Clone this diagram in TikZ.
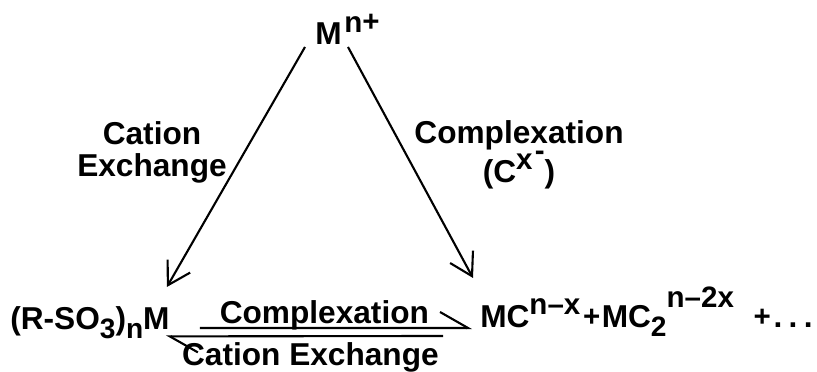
\documentclass[tikz,border=0pt]{standalone}
\usepackage{fontspec}
\setmainfont{Liberation Sans}
\usetikzlibrary{arrows.meta}
\newcommand{\up}[2][.42em]{\raisebox{#1}{\fontsize{21}{21}\selectfont #2}}
\newcommand{\dn}[1]{\raisebox{-.28em}{\fontsize{20}{20}\selectfont #1}}
\newcommand{\pl}{\raisebox{.04em}{\fontsize{21}{21}\selectfont +}}
\tikzset{
	lbl/.style={inner sep=0pt,font=\bfseries\fontsize{22.5}{22.8}\selectfont},
	ray/.style={line width=1.5pt,-{Straight Barb[length=0.55cm,width=0.65cm]}},
	harp/.style={line width=1.5pt,-{Straight Barb[harpoon,length=0.7cm,width=0.8cm]}}
}

\begin{document}
\begin{tikzpicture}
	\useasboundingbox (0,0) rectangle (20.425,9.3);
	\node[lbl,anchor=base west] (mn) at (7.875,8.175) {M\hspace{2pt}\up[.38em]{n\pl}};
	\node[lbl,anchor=base west] (resin) at (0.25,1.05) {(R-SO\dn{3})\dn{n}M};
	\node[lbl,anchor=base west] (prod) at (12,1.1) {MC\up{n--x}\hspace{2pt}\pl\hspace{1pt}MC\dn{2}\up[.66em]{n--2x}\hspace{14pt}\pl\hspace{2pt}.\hspace{4.5pt}.\hspace{4.5pt}.};
	\node[lbl,align=center,anchor=north] (cex) at (3.8,6.275) {Cation\\Exchange};
	\node[lbl,align=center,anchor=north] (cpx) at (12.975,6.3) {Complexation\\(C\up{x\hspace{1.5pt}\raisebox{.3em}{-}})};
	\node[lbl,anchor=base] (cpxb) at (8.11,1.2) {Complexation};
	\node[lbl,anchor=base] (cexb) at (7.76,0.15) {Cation Exchange};
	% arrows from the free ion
	\draw[ray] ([shift={(-0.25,-0.05)}]mn.base west) -- ([shift={(-0.075,1.075)}]resin.base east);
	\draw[ray] ([shift={(0.825,-0.05)}]mn.base west) -- ([shift={(-0.175,1.25)}]prod.base west);
	% equilibrium harpoons
	\draw[harp] ([shift={(0.75,0.05)}]resin.base east) -- ([shift={(-0.2,0)}]prod.base west);
	\draw[harp] ([shift={(-0.925,-0.2)}]prod.base west) -- ([shift={(-0.1,-0.16)}]resin.base east);
\end{tikzpicture}
\end{document}
